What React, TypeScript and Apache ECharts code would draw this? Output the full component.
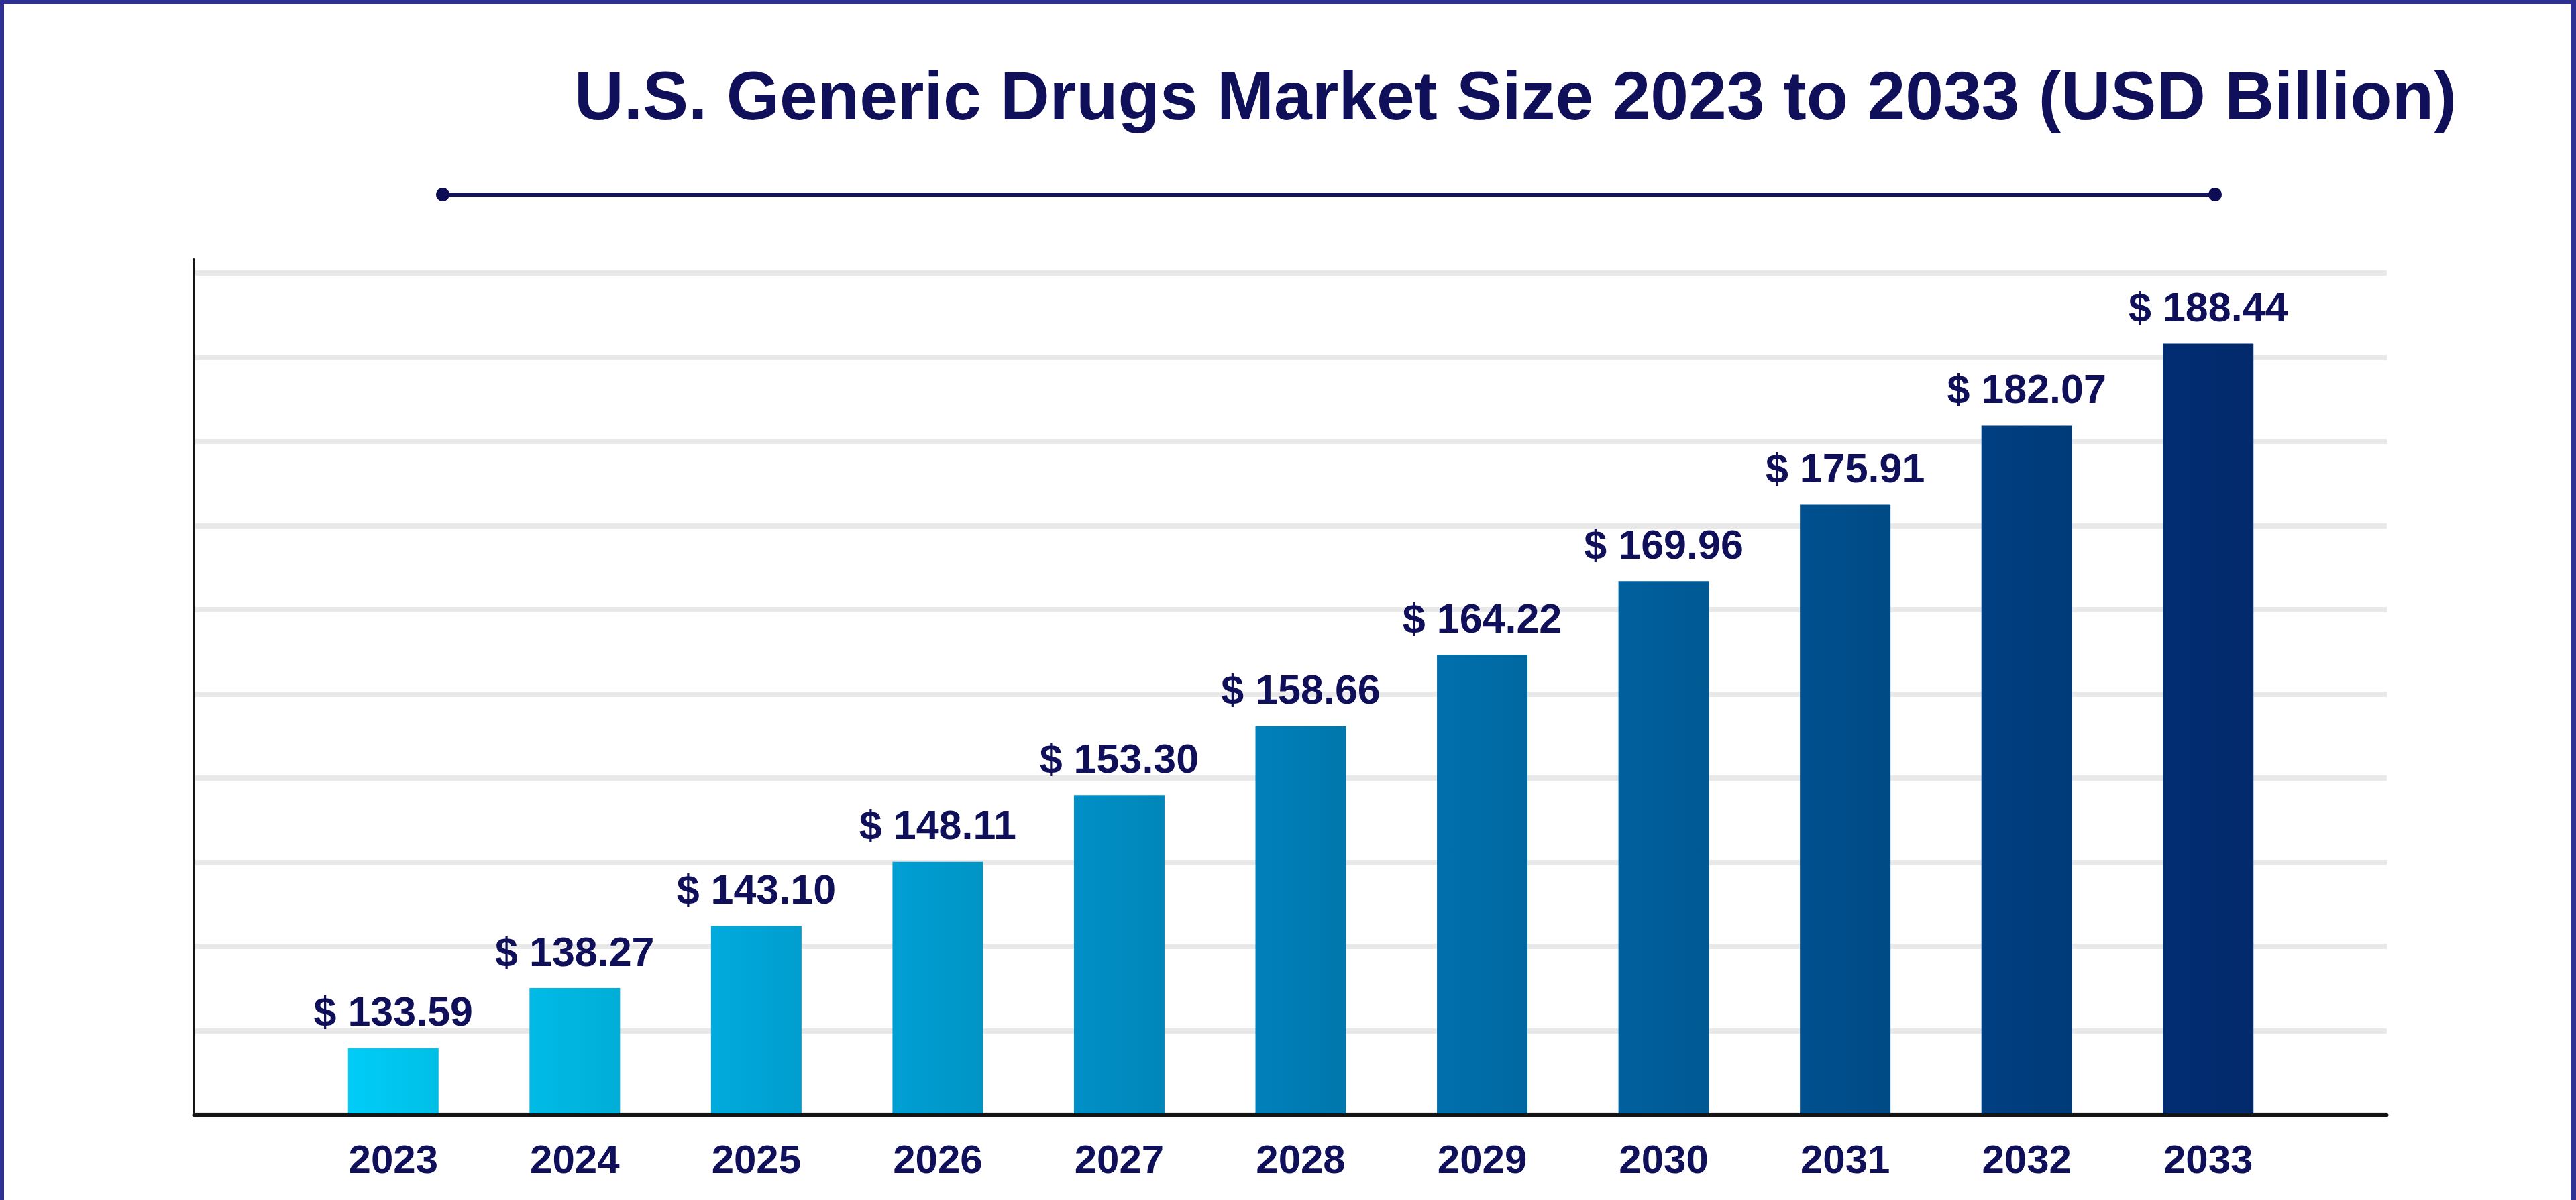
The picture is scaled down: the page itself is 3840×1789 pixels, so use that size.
import { useEffect, useRef } from 'react';
import * as echarts from 'echarts';

const years = ['2023', '2024', '2025', '2026', '2027', '2028', '2029', '2030', '2031', '2032', '2033'];
const marketSize = [133.59, 138.27, 143.1, 148.11, 153.3, 158.66, 164.22, 169.96, 175.91, 182.07, 188.44];
const gridSteps = [0, 1, 2, 3, 4, 5, 6, 7, 8, 9, 10];

const TITLE = 'U.S. Generic Drugs Market Size 2023 to 2033 (USD Billion)';
const NAVY = '#10105a';
const FONT = '"Liberation Sans", Arial, sans-serif';

// light cyan -> dark navy, one per bar
const barColors = [
  '#00cdf8', '#00bbe7', '#00aadd', '#009fd4', '#0090c7', '#0080ba',
  '#0070ad', '#00609e', '#00508f', '#003f82', '#022d73',
];

const shade = (hex: string, k: number) => {
  const n = parseInt(hex.slice(1), 16);
  const f = (c: number) => Math.round(c * (1 - k));
  const r = f((n >> 16) & 255), g = f((n >> 8) & 255), b = f(n & 255);
  return `rgb(${r},${g},${b})`;
};

export default function App() {
  const ref = useRef<HTMLDivElement>(null);

  useEffect(() => {
    const dom = ref.current;
    if (!dom) return;
    const chart = echarts.init(dom, undefined, { renderer: 'svg' });

    const axisTop = 387;
    const gridTop = 407;
    const plotBottom = 1662;
    const plotLeft = 289;
    const plotRight = 3558;

    const hiddenX = (gridIndex: number, extra = {}) => ({
      type: 'value',
      gridIndex,
      min: 0,
      max: 1,
      axisLine: { show: false },
      axisTick: { show: false },
      axisLabel: { show: false },
      splitLine: { show: false },
      ...extra,
    });

    chart.setOption({
      animation: false,
      backgroundColor: '#ffffff',
      graphic: [
        { type: 'rect', shape: { x: 0, y: 0, width: 3840, height: 6 }, style: { fill: '#2e3192' } },
        { type: 'rect', shape: { x: 0, y: 0, width: 6, height: 1789 }, style: { fill: '#2e3192' } },
        { type: 'rect', shape: { x: 3832, y: 0, width: 8, height: 1789 }, style: { fill: '#2e3192' } },
        {
          type: 'text',
          x: 2259,
          y: 143,
          style: {
            text: TITLE,
            fill: NAVY,
            font: `bold 102px ${FONT}`,
            textAlign: 'center',
            textVerticalAlign: 'middle',
          },
        },
        {
          type: 'line',
          shape: { x1: 660, y1: 290, x2: 3302, y2: 290 },
          style: { stroke: '#14145e', lineWidth: 6 },
        },
        { type: 'circle', shape: { cx: 660, cy: 290, r: 10 }, style: { fill: '#0d0d55' } },
        { type: 'circle', shape: { cx: 3302, cy: 290, r: 10 }, style: { fill: '#0d0d55' } },
      ],
      grid: [
        // gridlines + x axis line
        { left: plotLeft, top: gridTop, width: plotRight - plotLeft, height: plotBottom - gridTop },
        // bars
        { left: 451, top: axisTop, width: 3427 - 451, height: plotBottom - axisTop },
        // y axis line (reaches a bit above the top gridline)
        { left: plotLeft, top: axisTop, width: plotRight - plotLeft, height: plotBottom - axisTop },
      ],
      xAxis: [
        hiddenX(0, {
          z: 5,
          axisLine: { show: true, onZero: false, lineStyle: { color: '#141414', width: 5 } },
        }),
        {
          type: 'category',
          gridIndex: 1,
          data: years,
          axisLine: { show: false },
          axisTick: { show: false },
          axisLabel: {
            color: NAVY,
            fontFamily: FONT,
            fontWeight: 'bold',
            fontSize: 60,
            margin: 36,
          },
        },
        hiddenX(2),
      ],
      yAxis: [
        {
          type: 'value',
          gridIndex: 0,
          min: gridSteps[0],
          max: gridSteps[gridSteps.length - 1],
          interval: 1,
          axisLine: { show: false },
          axisTick: { show: false },
          axisLabel: { show: false },
          splitLine: { show: true, lineStyle: { color: '#e9e9e9', width: 8 } },
        },
        {
          type: 'value',
          gridIndex: 1,
          min: 128.4,
          max: 195,
          show: false,
          splitLine: { show: false },
        },
        {
          type: 'value',
          gridIndex: 2,
          min: 0,
          max: 1,
          axisLine: { show: true, lineStyle: { color: '#141414', width: 4 } },
          axisTick: { show: false },
          axisLabel: { show: false },
          splitLine: { show: false },
        },
      ],
      series: [
        {
          type: 'bar',
          xAxisIndex: 1,
          yAxisIndex: 1,
          barWidth: 135,
          z: 3,
          data: marketSize.map((v, i) => ({
            value: v,
            itemStyle: {
              color: new echarts.graphic.LinearGradient(0, 0, 1, 0, [
                { offset: 0, color: barColors[i] },
                { offset: 1, color: shade(barColors[i], 0.07) },
              ]),
            },
          })),
          label: {
            show: true,
            position: 'top',
            distance: 24,
            color: NAVY,
            fontFamily: FONT,
            fontWeight: 'bold',
            fontSize: 61,
            formatter: (p: any) => `$ ${Number(p.value).toFixed(2)}`,
          },
        },
      ],
    } as echarts.EChartsOption);

    return () => {
      chart.dispose();
    };
  }, []);

  return (
    <div
      ref={ref}
      style={{ position: 'absolute', left: 0, top: 0, width: 3840, height: 1789 }}
    />
  );
}
